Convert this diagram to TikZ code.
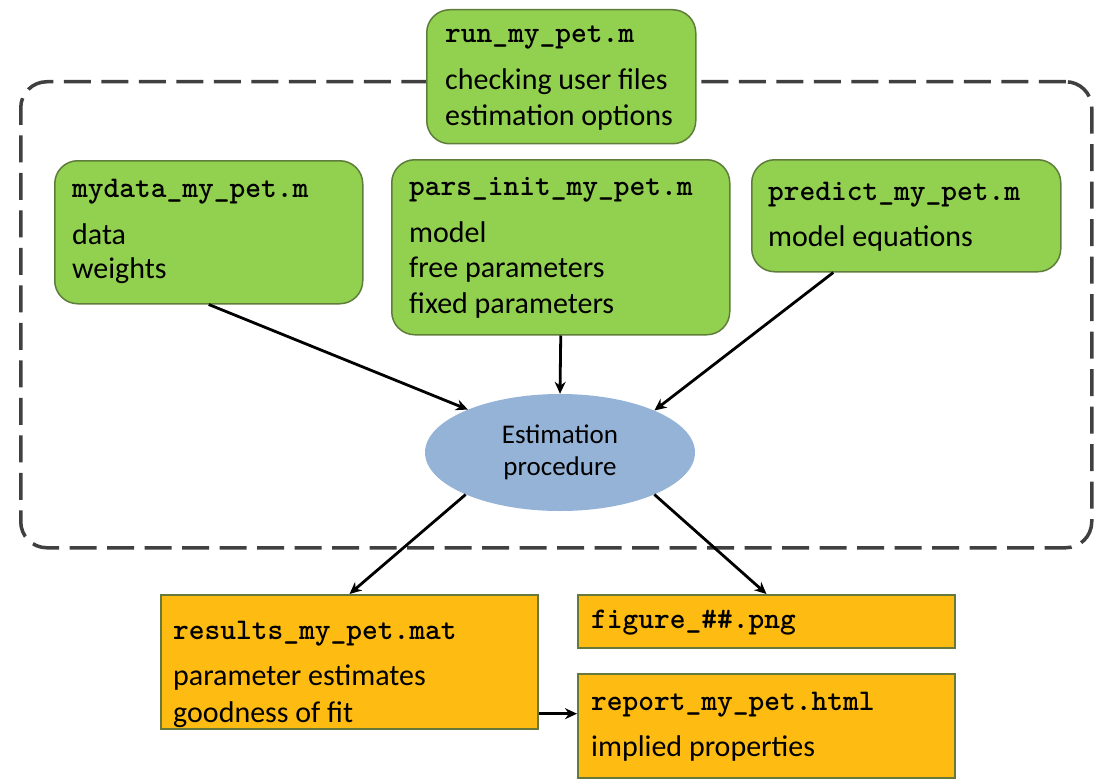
\documentclass[tikz,border=0pt]{standalone}
\usepackage{fontspec}
\setmainfont{Carlito}
\usetikzlibrary{shapes.geometric,arrows.meta,calc}
\definecolor{gfill}{HTML}{92D050}
\definecolor{gborder}{HTML}{5F7D3A}
\definecolor{ofill}{HTML}{FEBC12}
\definecolor{oborder}{HTML}{67793A}
\definecolor{ellblue}{HTML}{95B3D7}
\definecolor{dashgray}{HTML}{404040}
\begin{document}
\begin{tikzpicture}[x=1pt,y=-1pt,
  gbox/.style={draw=gborder,fill=gfill,line width=1.5pt,rounded corners=23pt,inner sep=0pt,anchor=north west},
  obox/.style={draw=oborder,fill=ofill,line width=2pt,inner sep=0pt,anchor=north west},
  ttl/.style={anchor=base west,inner sep=0pt,font=\ttfamily\bfseries\fontsize{30}{34}\selectfont},
  txt/.style={anchor=base west,inner sep=0pt,font=\fontsize{30}{36}\selectfont},
  dashbox/.style={draw=dashgray,line width=3.5pt,dash pattern=on 27pt off 10.5pt,rounded corners=26pt,inner sep=0pt,anchor=north west},
  arr/.style={draw=black,line width=2.8pt,-{Stealth[length=12pt,width=11pt]}},
  estnode/.style={ellipse,fill=ellblue,draw=none,inner sep=0pt,minimum width=270pt,minimum height=117pt,align=center,font=\fontsize{27}{32}\selectfont}
]
\useasboundingbox (0,0) rectangle (1108,781);
\fill[white] (0,0) rectangle (1108,781);

% dashed frame
\node[dashbox,minimum width=1071pt,minimum height=466pt] (frame) at (19,80) {};

% green boxes
\node[gbox,minimum width=269pt,minimum height=134pt] (run) at (426,9) {};
\node[ttl] (run-t) at (445,43) {run\_my\_pet.m};
\node[txt] (run-a) at (445,90) {checking user files};
\node[txt] (run-b) at (445,125) {estimation options};

\node[gbox,minimum width=308pt,minimum height=143pt] (mydata) at (54,160) {};
\node[ttl] (mydata-t) at (72,197) {mydata\_my\_pet.m};
\node[txt] (mydata-a) at (72,244) {data};
\node[txt] (mydata-b) at (72,278) {weights};

\node[gbox,minimum width=338pt,minimum height=175pt] (pars) at (391,159) {};
\node[ttl] (pars-t) at (409,195) {pars\_init\_my\_pet.m};
\node[txt] (pars-a) at (409,242) {model};
\node[txt] (pars-b) at (409,277) {free parameters};
\node[txt] (pars-c) at (409,313) {fixed parameters};

\node[gbox,minimum width=309pt,minimum height=112pt] (predict) at (751,159) {};
\node[ttl] (predict-t) at (768,200) {predict\_my\_pet.m};
\node[txt] (predict-a) at (768,246) {model equations};

% ellipse
\node[estnode] (est) at (560,452.5) {Estimation\\procedure};

% orange boxes
\node[obox,minimum width=377pt,minimum height=134pt] (results) at (160,594) {};
\node[ttl] (results-t) at (173,639) {results\_my\_pet.mat};
\node[txt] (results-a) at (173,685) {parameter estimates};
\node[txt] (results-b) at (173,722) {goodness of fit};

\node[obox,minimum width=377pt,minimum height=53pt] (figure) at (577,594) {};
\node[ttl] (figure-t) at (591,628) {figure\_\#\#.png};

\node[obox,minimum width=377pt,minimum height=104pt] (report) at (577,673) {};
\node[ttl] (report-t) at (591,710) {report\_my\_pet.html};
\node[txt] (report-a) at (591,756) {implied properties};

% connectors
\draw[arr] (mydata.south) -- (est.155);
\draw[arr] (pars.south) -- (est.north);
\coordinate (pstart) at ($(predict.south west)!0.265!(predict.south east)$);
\draw[arr] (pstart) -- (est.24);
\draw[arr] (est.204) -- (results.north);
\draw[arr] (est.-24) -- (figure.north);
\coordinate (ra) at ($(results.south east)!0.12!(results.north east)$);
\draw[arr] (ra) -- (report.west |- ra);
\end{tikzpicture}
\end{document}
